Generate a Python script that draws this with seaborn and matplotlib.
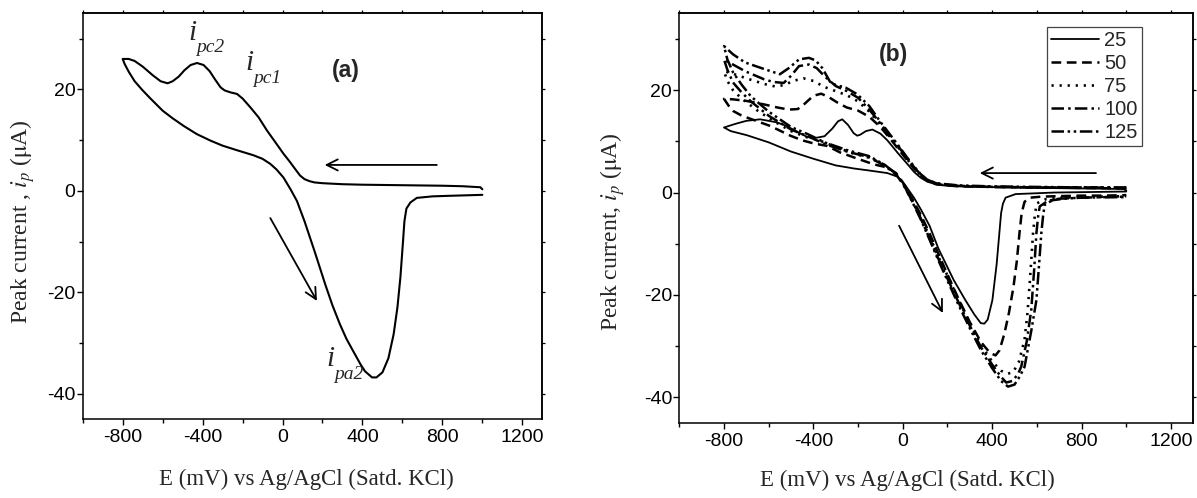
import matplotlib
matplotlib.use("Agg")
import numpy as np
import pandas as pd
import seaborn as sns
import matplotlib.pyplot as plt
from matplotlib.ticker import MultipleLocator

# ---------------- data (E in mV, I in uA) ----------------
# panel (a): one cyclic voltammogram, cathodic scan (1000 -> -800) then anodic scan (-800 -> 1000)
cv_a = [(1000, 0.3), (990, 0.7), (900, 0.9), (800, 1.0), (600, 1.1), (400, 1.2), (300, 1.3), (200, 1.5),
        (160, 1.65), (135, 1.9), (110, 2.3), (88, 3.0), (65, 4.2), (35, 5.8), (5, 7.3), (-40, 9.8), (-78, 11.9),
        (-120, 14.5), (-162, 16.5), (-200, 18.2), (-228, 19.1), (-260, 19.4), (-290, 19.8), (-310, 20.4),
        (-335, 21.8), (-365, 23.6), (-395, 24.8), (-428, 25.2), (-460, 24.8), (-490, 23.8), (-520, 22.5),
        (-550, 21.6), (-575, 21.2), (-610, 21.6), (-650, 22.8), (-700, 24.5), (-740, 25.6), (-770, 26.0),
        (-800, 26.0),
        (-790, 25.0), (-770, 23.5), (-740, 21.6), (-700, 19.8), (-661, 18.2), (-600, 15.8), (-550, 14.3),
        (-495, 12.8), (-430, 11.2), (-361, 9.9), (-300, 8.9), (-228, 8.0), (-145, 7.0), (-100, 6.3),
        (-61, 5.3), (-30, 4.2), (5, 2.6), (40, 0.3), (72, -2.0), (110, -6.0), (161, -12.0), (215, -18.6),
        (250, -22.6), (287, -26.3), (320, -29.2), (359, -32.0), (390, -34.2), (413, -35.6), (448, -36.8),
        (470, -36.8), (500, -35.8), (530, -33.0), (556, -28.3), (575, -23.0), (590, -17.0), (602, -10.5),
        (610, -6.0), (620, -3.5), (640, -2.3), (672, -1.4), (750, -1.1), (825, -1.0), (1000, -0.8)]

# panel (b): scan rates (mV/s)
rates = ["25", "50", "75", "100", "125"]
cv_25 = [(1000, 0.4), (990, 0.7), (800, 0.8), (600, 0.9), (351, 1.1), (200, 1.3), (150, 1.6), (111, 2.1),
         (80, 2.9), (51, 4.0), (20, 5.6), (-20, 7.6), (-69, 10.2), (-100, 11.5), (-136, 12.3), (-165, 12.0),
         (-190, 11.3), (-204, 11.1), (-220, 11.6), (-245, 13.2), (-271, 14.3), (-290, 13.9), (-315, 12.5),
         (-350, 11.0), (-398, 10.6), (-430, 10.9), (-470, 11.8), (-520, 13.0), (-563, 13.7), (-638, 14.3),
         (-700, 14.0), (-750, 13.4), (-800, 12.7),
         (-770, 12.0), (-698, 11.2), (-600, 9.8), (-500, 8.0), (-400, 6.6), (-300, 5.3), (-219, 4.7),
         (-150, 4.3), (-69, 3.8), (-24, 3.1), (10, 1.5), (50, -1.0), (81, -3.3), (120, -6.5), (159, -10.9),
         (228, -17.1), (280, -21.0), (320, -23.8), (349, -25.5), (365, -25.6), (380, -24.8), (401, -21.0),
         (420, -14.0), (432, -8.0), (440, -4.0), (448, -2.2), (460, -1.0), (505, -0.3), (678, 0.0),
         (1000, 0.2)]
cv_50 = [(1000, 0.8), (800, 0.9), (600, 1.0), (400, 1.1), (250, 1.2), (150, 1.6), (110, 2.3), (80, 3.3),
         (50, 4.7), (20, 6.3), (-20, 8.5), (-60, 10.7), (-100, 12.8), (-150, 14.8), (-200, 16.0), (-250, 16.6),
         (-290, 17.5), (-330, 18.6), (-365, 19.3), (-400, 18.9), (-440, 17.3), (-470, 16.3), (-510, 16.2),
         (-560, 16.6), (-620, 17.2), (-700, 17.9), (-760, 18.2), (-800, 18.3),
         (-780, 17.0), (-758, 15.9), (-720, 15.0), (-650, 13.9), (-593, 13.0), (-503, 11.1), (-450, 10.2),
         (-400, 9.6), (-338, 9.1), (-279, 7.8), (-189, 6.4), (-129, 5.5), (-69, 4.9), (-30, 3.8), (0, 2.0),
         (40, -1.0), (80, -4.3), (120, -8.0), (160, -12.0), (200, -16.0), (250, -20.8), (300, -25.3),
         (350, -29.2), (390, -31.3), (415, -31.8), (433, -30.8), (455, -27.5), (475, -23.5), (495, -18.5),
         (510, -13.5), (522, -8.0), (532, -4.0), (545, -1.8), (570, -1.0), (620, -0.8), (700, -0.7),
         (800, -0.6), (900, -0.6), (1000, -0.5)]
cv_75 = [(1000, 0.9), (800, 1.0), (600, 1.0), (400, 1.1), (250, 1.3), (150, 1.7), (110, 2.4), (80, 3.4),
         (50, 4.8), (20, 6.5), (-20, 8.8), (-60, 11.0), (-100, 13.2), (-150, 15.8), (-200, 17.8), (-250, 19.0),
         (-300, 19.8), (-350, 20.6), (-400, 21.8), (-445, 22.3), (-490, 21.8), (-530, 21.0), (-570, 20.7),
         (-620, 21.2), (-700, 22.3), (-760, 23.2), (-800, 23.7),
         (-785, 21.8), (-760, 20.0), (-720, 18.3), (-650, 16.0), (-580, 14.0), (-500, 12.0), (-430, 10.8),
         (-380, 10.3), (-300, 8.9), (-220, 7.6), (-150, 6.8), (-90, 5.6), (-40, 4.0), (0, 1.8), (40, -1.3),
         (80, -4.8), (120, -8.6), (160, -12.6), (200, -16.2), (250, -21.0), (300, -25.6), (350, -29.8),
         (400, -33.0), (440, -34.8), (470, -35.4), (495, -35.0), (520, -33.0), (545, -28.7), (558, -23.5),
         (568, -17.7), (576, -12.5), (583, -7.9), (592, -4.0), (600, -2.1), (640, -1.3), (700, -1.0),
         (800, -0.9), (900, -0.8), (1000, -0.7)]
cv_100 = [(1000, 0.9), (800, 1.0), (600, 1.0), (400, 1.1), (250, 1.3), (150, 1.8), (110, 2.5), (80, 3.5),
          (50, 5.0), (20, 6.7), (-20, 9.0), (-60, 11.2), (-100, 13.5), (-150, 16.2), (-200, 18.5), (-250, 19.8),
          (-300, 20.8), (-350, 22.7), (-385, 24.3), (-420, 25.0), (-464, 24.7), (-500, 22.8), (-533, 21.4),
          (-580, 21.6), (-620, 22.1), (-706, 23.7), (-760, 25.0), (-800, 26.0),
          (-785, 24.0), (-760, 21.5), (-720, 19.5), (-680, 17.8), (-600, 15.0), (-500, 12.3), (-420, 10.9),
          (-350, 9.5), (-250, 8.0), (-150, 6.9), (-80, 5.2), (-30, 3.5), (0, 1.8), (40, -1.5), (80, -5.0),
          (120, -9.0), (160, -13.0), (200, -16.8), (250, -21.5), (300, -26.0), (350, -30.2), (400, -33.6),
          (440, -36.0), (463, -37.1), (490, -36.8), (515, -35.5), (530, -34.0), (555, -29.0), (575, -22.9),
          (588, -15.0), (598, -7.9), (606, -4.5), (613, -2.7), (650, -1.6), (700, -1.2), (800, -1.0),
          (900, -0.9), (1000, -0.8)]
cv_125 = [(1000, 1.0), (800, 1.0), (600, 1.1), (400, 1.2), (250, 1.4), (150, 1.8), (110, 2.5), (80, 3.6),
          (50, 5.1), (20, 6.8), (-20, 9.2), (-60, 11.5), (-100, 13.8), (-150, 16.9), (-204, 19.2), (-256, 20.5),
          (-300, 21.0), (-325, 21.6), (-360, 24.3), (-390, 25.8), (-420, 26.3), (-464, 26.0), (-510, 24.3),
          (-550, 23.1), (-619, 24.1), (-706, 25.4), (-760, 27.0), (-800, 28.6),
          (-785, 26.0), (-760, 23.5), (-720, 21.0), (-680, 18.8), (-600, 15.8), (-500, 12.8), (-420, 11.3),
          (-350, 9.8), (-250, 8.3), (-150, 7.1), (-80, 5.4), (-30, 3.6), (0, 1.9), (40, -1.6), (80, -5.2),
          (120, -9.2), (160, -13.3), (200, -17.2), (250, -22.0), (300, -26.5), (350, -30.8), (400, -34.3),
          (440, -36.8), (471, -37.9), (500, -37.5), (525, -35.8), (545, -34.0), (575, -27.0), (598, -21.0),
          (610, -14.0), (620, -7.9), (628, -4.5), (635, -2.4), (670, -1.5), (720, -1.2), (800, -1.0),
          (900, -0.9), (1000, -0.9)]
curves_b = [cv_25, cv_50, cv_75, cv_100, cv_125]

x_ticks = [-800, -400, 0, 400, 800, 1200]
y_ticks = [-40, -20, 0, 20]

# peak labels of panel (a): (E, I, subscript)
peak_labels = [(-470, 29.8, "pc2"), (-185, 23.8, "pc1"), (219, -34.6, "pa2")]

# ---------------- style ----------------
sns.set_theme(style="ticks")
plt.rcParams.update({
    "font.family": ["Liberation Sans", "DejaVu Sans"],
    "mathtext.fontset": "stix",
    "axes.unicode_minus": False,
    "lines.scale_dashes": False,
    "axes.linewidth": 1.1,
    "axes.edgecolor": "black",
    "xtick.color": "black",
    "ytick.color": "black",
})

styles = ["-", (0, (7, 4)), (0, (1.6, 4.2)), (0, (9, 3, 1.8, 3)), (0, (9, 2.6, 1.8, 2.6, 1.8, 2.6))]
widths = [1.3, 1.8, 1.9, 1.8, 1.8]

W, H = 1197, 498
fig = plt.figure(figsize=(W / 100, H / 100), dpi=100)
ax_a = fig.add_axes([82.7 / W, (H - 419) / H, 459.6 / W, 405.7 / H])
ax_b = fig.add_axes([679.3 / W, (H - 423) / H, 514.0 / W, 409.7 / H])

serif = ["Liberation Serif", "DejaVu Serif"]


def style_axes(ax, ylabel, xl_x, xl_y, yl_x, yl_y):
    ax.set_xlim(-1000, 1300)
    ax.set_ylim(-45, 35)
    ax.set_xticks(x_ticks)
    ax.set_yticks(y_ticks)
    ax.xaxis.set_minor_locator(MultipleLocator(200))
    ax.yaxis.set_minor_locator(MultipleLocator(10))
    ax.tick_params(which="major", direction="out", length=4.2, width=1.0, labelsize=14, pad=3)
    ax.tick_params(axis="y", which="major", pad=1)
    ax.tick_params(which="minor", direction="out", length=2.8, width=1.0)
    for s in ax.spines.values():
        s.set_visible(True)
        s.set_color("black")
        s.set_linewidth(1.1)
    top = ax.secondary_xaxis("top")
    top.set_xticks(x_ticks)
    top.xaxis.set_minor_locator(MultipleLocator(200))
    top.tick_params(which="both", direction="out", length=2.0, width=0.9, labeltop=False)
    right = ax.secondary_yaxis("right")
    right.set_yticks(y_ticks)
    right.yaxis.set_minor_locator(MultipleLocator(10))
    right.tick_params(which="both", direction="out", length=2.0, width=0.9, labelright=False)
    ax.set_xlabel("E (mV) vs Ag/AgCl (Satd. KCl)", family=serif, fontsize=16.5)
    ax.set_ylabel(ylabel, family=serif, fontsize=17)
    ax.xaxis.set_label_coords(xl_x, xl_y)
    ax.xaxis.label.set_va("center")
    ax.yaxis.set_label_coords(yl_x, yl_y)
    ax.yaxis.label.set_va("center")


# ---------------- panel (a) ----------------
df_a = pd.DataFrame(cv_a, columns=["E", "I"])
sns.lineplot(data=df_a, x="E", y="I", sort=False, estimator=None, ax=ax_a, color="black", lw=1.5)
style_axes(ax_a, r"Peak current , $i_{p}$ ($\mathrm{\mu}$A)", 0.486, -0.150, -0.130, 0.486)

arrow = dict(arrowstyle="->", color="black", lw=1.3, mutation_scale=20)
ax_a.annotate("", xy=(197, 5.1), xytext=(786, 5.1), arrowprops=arrow)
ax_a.annotate("", xy=(179, -22.2), xytext=(-68, -4.9), arrowprops=arrow)
for ex, iy, sub in peak_labels:
    ax_a.text(ex, iy, "i", family=serif, style="italic", fontsize=21, ha="left", va="baseline")
    ax_a.annotate(sub, xy=(ex, iy), xytext=(5.5, -9), textcoords="offset points", family=serif,
                  style="italic", fontsize=14, ha="left", va="baseline")
ax_a.text(318, 23.8, "(a)", fontsize=16.5, fontweight="bold", ha="center", va="center")

# ---------------- panel (b) ----------------
for lab, cv, ls, lw in zip(rates, curves_b, styles, widths):
    df = pd.DataFrame(cv, columns=["E", "I"])
    sns.lineplot(data=df, x="E", y="I", sort=False, estimator=None, ax=ax_b,
                 color="black", lw=lw, linestyle=ls, label=lab)
style_axes(ax_b, r"Peak current, $i_{p}$ ($\mathrm{\mu}$A)", 0.443, -0.139, -0.129, 0.466)

ax_b.annotate("", xy=(332, 3.8), xytext=(877, 3.8), arrowprops=arrow)
ax_b.annotate("", xy=(185, -24.0), xytext=(-22, -6.0), arrowprops=arrow)
ax_b.text(-40, 27.0, "(b)", fontsize=16.5, fontweight="bold", ha="center", va="center")

leg = ax_b.legend(loc="upper left", bbox_to_anchor=(0.715, 0.967), borderaxespad=0, borderpad=0.2,
                  fancybox=False, frameon=True, edgecolor="#444444", framealpha=1, fontsize=14.5,
                  handlelength=2.4, handletextpad=0.25, labelspacing=0.2)
leg.get_frame().set_linewidth(0.9)

fig.savefig("out.png", dpi=100)
